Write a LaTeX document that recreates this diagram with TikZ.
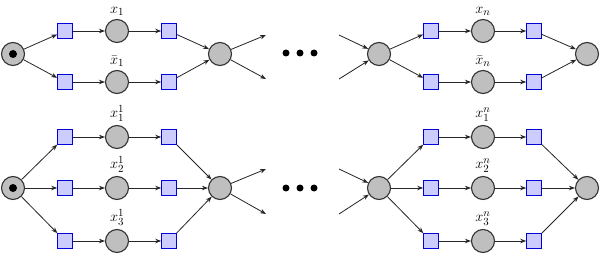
\documentclass[tikz,border=0pt]{standalone}
\usetikzlibrary{arrows.meta}
\begin{document}
\begin{tikzpicture}[x=1pt,y=1pt,
  place/.style={circle,draw=black!80,fill=black!25,line width=1.1pt,minimum size=23pt,inner sep=0pt},
  trans/.style={rectangle,draw=blue!85!black,fill=blue!20,line width=1.1pt,minimum size=14.5pt,inner sep=0pt},
  arc/.style={draw=black!85,line width=0.8pt,-{Stealth[length=6pt,width=4.5pt]}},
  lab/.style={font=\fontsize{15}{18}\selectfont},
  dot/.style={circle,fill=black,minimum size=7pt,inner sep=0pt}]
\useasboundingbox (0,0) rectangle (600,-254);
\fill[white] (0,0) rectangle (600,-254);
% ---------- top row ----------
\node[place] (s1) at (13,-54) {};
\node[dot,minimum size=8pt] (s1t) at (s1) {};
\node[trans] (a1) at (65,-31) {};
\node[trans] (a2) at (65,-82) {};
\node[place,label={[lab,label distance=0pt]above:$x_1$}] (p1) at (117,-31) {};
\node[place,label={[lab,label distance=0pt]above:$\bar{x}_1$}] (p2) at (117,-82) {};
\node[trans] (b1) at (169,-31) {};
\node[trans] (b2) at (169,-82) {};
\node[place] (m1) at (220,-54) {};
\coordinate (o1) at (266,-35);
\coordinate (o2) at (266,-79);
\node[dot] (d1) at (286,-53) {};
\node[dot] (d2) at (300,-53) {};
\node[dot] (d3) at (314,-53) {};
\coordinate (i1) at (339,-35);
\coordinate (i2) at (339,-79);
\node[place] (n1) at (379,-54) {};
\node[trans] (c1) at (431,-31) {};
\node[trans] (c2) at (431,-82) {};
\node[place,label={[lab,label distance=0pt]above:$x_n$}] (q1) at (483,-31) {};
\node[place,label={[lab,label distance=0pt]above:$\bar{x}_n$}] (q2) at (483,-82) {};
\node[trans] (e1) at (534,-31) {};
\node[trans] (e2) at (534,-82) {};
\node[place] (f1) at (587,-54) {};
\foreach \u/\v in {s1/a1,s1/a2,a1/p1,a2/p2,p1/b1,p2/b2,b1/m1,b2/m1,m1/o1,m1/o2,i1/n1,i2/n1,n1/c1,n1/c2,c1/q1,c2/q2,q1/e1,q2/e2,e1/f1,e2/f1}
  \draw[arc] (\u) -- (\v);
% ---------- bottom row ----------
\node[place] (s2) at (13,-188) {};
\node[dot,minimum size=8pt] (s2t) at (s2) {};
\node[trans] (g1) at (65,-137) {};
\node[trans] (g2) at (65,-188) {};
\node[trans] (g3) at (65,-241) {};
\node[place,label={[lab,label distance=0pt]above:$x^1_1$}] (r1) at (117,-137) {};
\node[place,label={[lab,label distance=0pt]above:$x^1_2$}] (r2) at (117,-188) {};
\node[place,label={[lab,label distance=0pt]above:$x^1_3$}] (r3) at (117,-241) {};
\node[trans] (h1) at (169,-137) {};
\node[trans] (h2) at (169,-188) {};
\node[trans] (h3) at (169,-241) {};
\node[place] (m2) at (220,-188) {};
\coordinate (o3) at (266,-169);
\coordinate (o4) at (266,-214);
\node[dot] (d4) at (286,-188) {};
\node[dot] (d5) at (300,-188) {};
\node[dot] (d6) at (314,-188) {};
\coordinate (i3) at (339,-169);
\coordinate (i4) at (339,-214);
\node[place] (n2) at (379,-188) {};
\node[trans] (k1) at (431,-137) {};
\node[trans] (k2) at (431,-188) {};
\node[trans] (k3) at (431,-241) {};
\node[place,label={[lab,label distance=0pt]above:$x^n_1$}] (t1) at (483,-137) {};
\node[place,label={[lab,label distance=0pt]above:$x^n_2$}] (t2) at (483,-188) {};
\node[place,label={[lab,label distance=0pt]above:$x^n_3$}] (t3) at (483,-241) {};
\node[trans] (l1) at (534,-137) {};
\node[trans] (l2) at (534,-188) {};
\node[trans] (l3) at (534,-241) {};
\node[place] (f2) at (587,-188) {};
\foreach \u/\v in {s2/g1,s2/g2,s2/g3,g1/r1,g2/r2,g3/r3,r1/h1,r2/h2,r3/h3,h1/m2,h2/m2,h3/m2,m2/o3,m2/o4,i3/n2,i4/n2,n2/k1,n2/k2,n2/k3,k1/t1,k2/t2,k3/t3,t1/l1,t2/l2,t3/l3,l1/f2,l2/f2,l3/f2}
  \draw[arc] (\u) -- (\v);
\end{tikzpicture}
\end{document}
